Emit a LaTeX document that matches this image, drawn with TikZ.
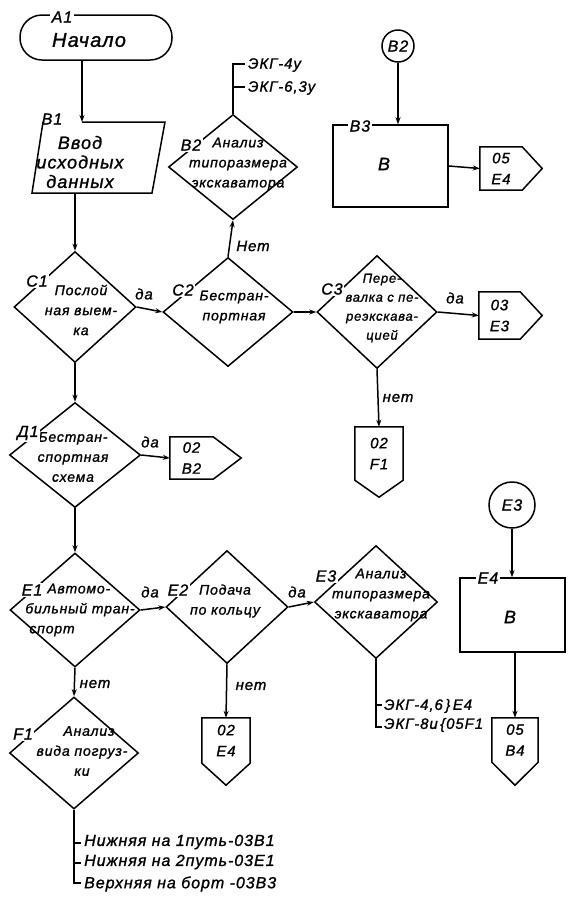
\documentclass[tikz,border=0pt]{standalone}
\usepackage{fontspec}
\setmainfont{Liberation Sans}[LetterSpace=6,FakeBold=1.2]
\usetikzlibrary{arrows.meta,shapes.geometric}
\begin{document}
\begin{tikzpicture}[x=1pt,y=-1pt,
  every node/.style={inner sep=0pt},
  ln/.style={line width=1.5pt, line join=miter},
  arr/.style={ln, -{Stealth[length=7pt,width=5pt]}},
  dia/.style={diamond, draw, line width=1.5pt, inner sep=0pt},
  tag/.style={fill=white, inner sep=1.5pt, font=\itshape\fontsize{16}{16}\selectfont},
  dtxt/.style={align=center, font=\itshape\fontsize{14}{20}\selectfont},
  otxt/.style={align=center, font=\itshape\fontsize{15}{21}\selectfont},
  yn/.style={font=\itshape\fontsize{15}{15}\selectfont},
  ek/.style={anchor=west, font=\itshape\fontsize{15}{15}\selectfont},
  big/.style={font=\itshape\fontsize{18}{18}\selectfont},
  circ/.style={circle, draw, line width=1.5pt, font=\itshape\fontsize{16}{16}\selectfont}
]
\fill[white] (0,0) rectangle (571,898);
\useasboundingbox (0,0) rectangle (571,898);

% ---------- A1 ----------
\node[draw, line width=1.5pt, rounded corners=22pt, minimum width=152pt, minimum height=45pt] (A1) at (96,37.5) {};
\node[font=\itshape\fontsize{20}{20}\selectfont] (A1t) at (89,40) {Начало};
\node[tag] (A1l) at (62,17) {A1};

% ---------- B1 ----------
\coordinate (B1top) at (82,122);
\coordinate (B1bot) at (75,193);
\draw[ln] (B1top) -- (165,122) -- (152,193) -- (32,193) -- (43,122);
\node[align=center, font=\itshape\fontsize{18}{19.5}\selectfont] (B1t) at (80,162) {Ввод\\исходных\\данных};
\node[tag, fill=none] (B1l) at (52,119) {B1};
\draw[arr] (A1.south -| B1top) -- (B1top);

% ---------- diamonds ----------
\node[dia, minimum width=122pt, minimum height=111pt] (C1) at (75,307) {};
\node[dia, minimum width=130pt, minimum height=109pt] (C2) at (228,312) {};
\node[dia, minimum width=120pt, minimum height=113pt] (C3) at (377,312) {};
\node[dia, minimum width=129pt, minimum height=105pt] (B2) at (233,167) {};
\node[dia, minimum width=131pt, minimum height=105pt] (D1) at (75,455) {};
\node[dia, minimum width=130pt, minimum height=114pt] (E1) at (75,610) {};
\node[dia, minimum width=122pt, minimum height=113pt] (E2) at (227,607) {};
\node[dia, minimum width=123pt, minimum height=113pt] (E3) at (376,602) {};
\node[dia, minimum width=129pt, minimum height=112pt] (F1) at (74,753) {};

% diamond texts
\node[dtxt] (C1t) at (81,310) {Послой\\ная выем-\\ка};
\node[dtxt] (C2t) at (234,307) {Бестран-\\портная};
\node[dtxt, font=\itshape\fontsize{13}{19}\selectfont] (C3t) at (382,308) {Пере-\\валка с пе-\\реэкскава-\\цией};
\node[dtxt] (B2t) at (238,164) {Анализ\\типоразмера\\экскаватора};
\node[dtxt] (D1t) at (73,457) {Бестран-\\спортная\\схема};
\node[dtxt, align=left] (E1t) at (80,610) {\hspace*{22pt}Автомо-\\бильный тран-\\\hspace*{4pt}спорт};
\node[dtxt] (E2t) at (225,601) {Подача\\по кольцу};
\node[dtxt] (E3t) at (381,595) {Анализ\\типоразмера\\экскаватора};
\node[dtxt] (F1t) at (82,751) {\hspace*{14pt}Анализ\\вида погруз-\\ки};

% diamond tags
\node[tag] (C1l) at (37,281) {C1};
\node[tag] (C2l) at (183,290) {C2};
\node[tag] (C3l) at (332,289) {C3};
\node[tag] (B2l) at (191,145) {B2};
\node[tag] (D1l) at (28,433) {Д1};
\node[tag] (E1l) at (32,590) {E1};
\node[tag] (E2l) at (178,590) {E2};
\node[tag] (E3l) at (326,576) {E3};
\node[tag] (F1l) at (23,734) {F1};

% ---------- off-page connectors ----------
\node[otxt, minimum width=42pt, minimum height=43pt] (oE4) at (501,168.5) {05\\E4};
\draw[ln] (oE4.north west) -- (oE4.north east) -- ([xshift=20pt]oE4.east) -- (oE4.south east) -- (oE4.south west) -- cycle;
\node[otxt, minimum width=41pt, minimum height=47pt] (oE3) at (499.5,315.5) {03\\E3};
\draw[ln] (oE3.north west) -- (oE3.north east) -- ([xshift=22pt]oE3.east) -- (oE3.south east) -- (oE3.south west) -- cycle;
\node[otxt, minimum width=43pt, minimum height=42pt] (oB2) at (191.5,458) {02\\B2};
\draw[ln] (oB2.north west) -- (oB2.north east) -- ([xshift=28pt]oB2.east) -- (oB2.south east) -- (oB2.south west) -- cycle;
\node[otxt, minimum width=48pt, minimum height=53pt] (oF1) at (379,453.5) {02\\F1};
\draw[ln] (oF1.north west) -- (oF1.north east) -- (oF1.south east) -- ([yshift=-17pt]oF1.south) -- (oF1.south west) -- cycle;
\node[otxt, minimum width=48pt, minimum height=45pt] (oE4b) at (226,740.5) {02\\E4};
\draw[ln] (oE4b.north west) -- (oE4b.north east) -- (oE4b.south east) -- ([yshift=-22pt]oE4b.south) -- (oE4b.south west) -- cycle;
\node[otxt, minimum width=46pt, minimum height=44pt] (oB4) at (515,740) {05\\B4};
\draw[ln] (oB4.north west) -- (oB4.north east) -- (oB4.south east) -- ([yshift=-23pt]oB4.south) -- (oB4.south west) -- cycle;

% ---------- B3 / E4 blocks and circles ----------
\node[circ, minimum size=32pt] (cB2) at (398,46) {B2};
\node[draw, line width=1.5pt, minimum width=115pt, minimum height=82pt] (B3) at (390.5,166) {};
\node[big] (B3t) at (384,164) {B};
\node[tag] (B3l) at (360,126) {B3};

\node[circ, minimum size=46pt] (cE3) at (512,505) {E3};
\node[draw, line width=1.5pt, minimum width=105pt, minimum height=74pt] (E4) at (512.5,615) {};
\node[big] (E4t) at (510,617) {B};
\node[tag] (E4l) at (488,578) {E4};

% ---------- connectors ----------
\draw[arr] (B1bot) -- (C1.north);
\draw[arr] (C1.east) -- (C2.west);
\node[yn] (y1) at (144,294) {да};
\draw[arr] (C2.north) -- (B2.south);
\node[yn] (n1) at (253,246) {Нет};
\draw[arr] (C2.east) -- (C3.west);
\draw[arr] (C3.east) -- (oE3.west);
\node[yn] (y2) at (455,298) {да};
\draw[arr] (C3.south) -- (oF1.north);
\node[yn] (n2) at (398,398) {нет};
\draw[arr] (C1.south) -- (D1.north);
\draw[arr] (D1.east) -- (oB2.west);
\node[yn] (y3) at (150,442) {да};
\draw[arr] (D1.south) -- (E1.north);
\draw[arr] (E1.east) -- (E2.west);
\node[yn] (y4) at (150,592) {да};
\draw[arr] (E2.east) -- (E3.west);
\node[yn] (y5) at (297,592) {да};
\draw[arr] (E2.south) -- (oE4b.north);
\node[yn] (n3) at (251,686) {нет};
\draw[arr] (E1.south) -- (F1.north);
\node[yn] (n4) at (95,684) {нет};
\draw[arr] (cB2.south) -- (cB2.south |- B3.north);
\draw[arr] (B3.east) -- (oE4.west);
\draw[arr] (cE3.south) -- (cE3.south |- E4.north);
\draw[arr] (E4.south -| oB4.north) -- (oB4.north);

% ---------- B2 output bracket ----------
\coordinate (ek1) at (245,64);
\coordinate (ek2) at (245,87);
\draw[ln] (B2.north) |- (ek1);
\draw[ln] (B2.north |- ek2) -- (ek2);
\node[ek] (ek1t) at (248,65) {ЭКГ-4у};
\node[ek] (ek2t) at (248,88) {ЭКГ-6,3у};

% ---------- E3 output bracket ----------
\coordinate (ek3) at (382,705);
\coordinate (ek4) at (382,727);
\draw[ln] (E3.south) |- (ek4);
\draw[ln] (E3.south |- ek3) -- (ek3);
\node[ek] (ek3t) at (384,706) {ЭКГ-4,6\,\}\,E4};
\node[ek] (ek4t) at (384,725) {ЭКГ-8и\,\{05F1};

% ---------- F1 output bracket ----------
\coordinate (f1a) at (81,843);
\coordinate (f1b) at (81,863);
\coordinate (f1c) at (81,883);
\draw[ln] (F1.south) |- (f1c);
\draw[ln] (F1.south |- f1a) -- (f1a);
\draw[ln] (F1.south |- f1b) -- (f1b);
\node[ek, font=\itshape\fontsize{16}{16}\selectfont] (f1at) at (84,842) {Нижняя на 1путь-03В1};
\node[ek, font=\itshape\fontsize{16}{16}\selectfont] (f1bt) at (84,862) {Нижняя на 2путь-03Е1};
\node[ek, font=\itshape\fontsize{16}{16}\selectfont] (f1ct) at (84,884) {Верхняя на борт -03В3};
\end{tikzpicture}
\end{document}
